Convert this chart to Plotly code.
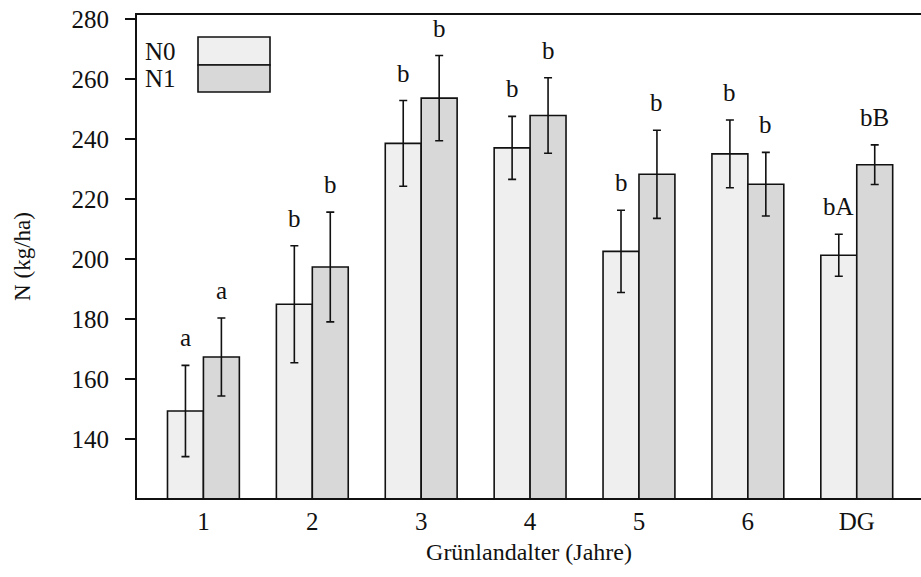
import plotly.graph_objects as go

categories = ["1", "2", "3", "4", "5", "6", "DG"]
n0_values = [149.3, 184.9, 238.5, 237.0, 202.5, 235.0, 201.2]
n0_errors = [15.2, 19.5, 14.3, 10.5, 13.7, 11.3, 7.0]
n1_values = [167.3, 197.3, 253.6, 247.8, 228.2, 224.9, 231.4]
n1_errors = [13.0, 18.3, 14.2, 12.6, 14.7, 10.6, 6.6]
n0_letters = ["a", "b", "b", "b", "b", "b", "bA"]
n1_letters = ["a", "b", "b", "b", "b", "b", "bB"]
series_names = ["N0", "N1"]

FONT = "Liberation Serif"
C0 = "#efefef"
C1 = "#d8d8d8"

W, H = 921, 577
ML, MR, MT, MB = 137, 0, 15, 79
x_range = [-0.61, 6.59]
y_range = [120.3, 281.3]
px_per_cat = (W - ML - MR) / (x_range[1] - x_range[0])
bar_off = 0.165 * px_per_cat

fig = go.Figure()
for name, vals, errs, col in [(series_names[0], n0_values, n0_errors, C0),
                              (series_names[1], n1_values, n1_errors, C1)]:
    fig.add_trace(go.Bar(
        x=categories, y=vals, name=name,
        marker=dict(color=col, line=dict(color="#111", width=1.6)),
        error_y=dict(type="data", array=errs, visible=True,
                     color="#111", thickness=1.6, width=4),
        showlegend=False,
    ))

annotations = []
for i, c in enumerate(categories):
    for vals, errs, letters, sh in [(n0_values, n0_errors, n0_letters, -bar_off),
                                    (n1_values, n1_errors, n1_letters, bar_off)]:
        annotations.append(dict(
            x=i, y=vals[i] + errs[i], text=letters[i], showarrow=False,
            xshift=sh, yshift=12, yanchor="bottom", xanchor="center",
            font=dict(family=FONT, size=25, color="#111"),
        ))

# legend drawn manually (pixel -> paper)
pw, ph = W - ML - MR, H - MT - MB
def px(x):
    return (x - ML) / pw
def py(y):
    return (H - MB - y) / ph

shapes = [
    dict(type="rect", xref="paper", yref="paper", x0=px(198), x1=px(270), y0=py(37), y1=py(65),
         fillcolor=C0, line=dict(color="#111", width=1.6)),
    dict(type="rect", xref="paper", yref="paper", x0=px(198), x1=px(270), y0=py(65), y1=py(92),
         fillcolor=C1, line=dict(color="#111", width=1.6)),
]
annotations.append(dict(xref="paper", yref="paper", x=px(178), y=py(51), text=series_names[0],
                        showarrow=False, xanchor="right", yanchor="middle",
                        font=dict(family=FONT, size=25, color="#111")))
annotations.append(dict(xref="paper", yref="paper", x=px(178), y=py(79), text=series_names[1],
                        showarrow=False, xanchor="right", yanchor="middle",
                        font=dict(family=FONT, size=25, color="#111")))

fig.update_layout(
    width=W, height=H,
    margin=dict(l=ML, r=MR, t=MT, b=MB, pad=0),
    paper_bgcolor="white", plot_bgcolor="white",
    barmode="group", bargap=0.34, bargroupgap=0,
    font=dict(family=FONT, size=25, color="#111"),
    xaxis=dict(range=x_range, showline=True, linecolor="#111", linewidth=2, mirror=True,
               ticks="", showgrid=False, zeroline=False,
               title=dict(text="Grünlandalter (Jahre)", standoff=9, font=dict(size=24)),
               tickfont=dict(size=25)),
    yaxis=dict(range=y_range, showline=True, linecolor="#111", linewidth=2,
               ticks="outside", ticklen=10, tickwidth=2, tickcolor="#111",
               ticklabelstandoff=11,
               tickvals=[140, 160, 180, 200, 220, 240, 260, 280],
               showgrid=False, zeroline=False,
               title=dict(text="N (kg/ha)", standoff=34, font=dict(size=23)),
               tickfont=dict(size=25)),
    shapes=shapes, annotations=annotations,
)
fig.write_html("out.html")
